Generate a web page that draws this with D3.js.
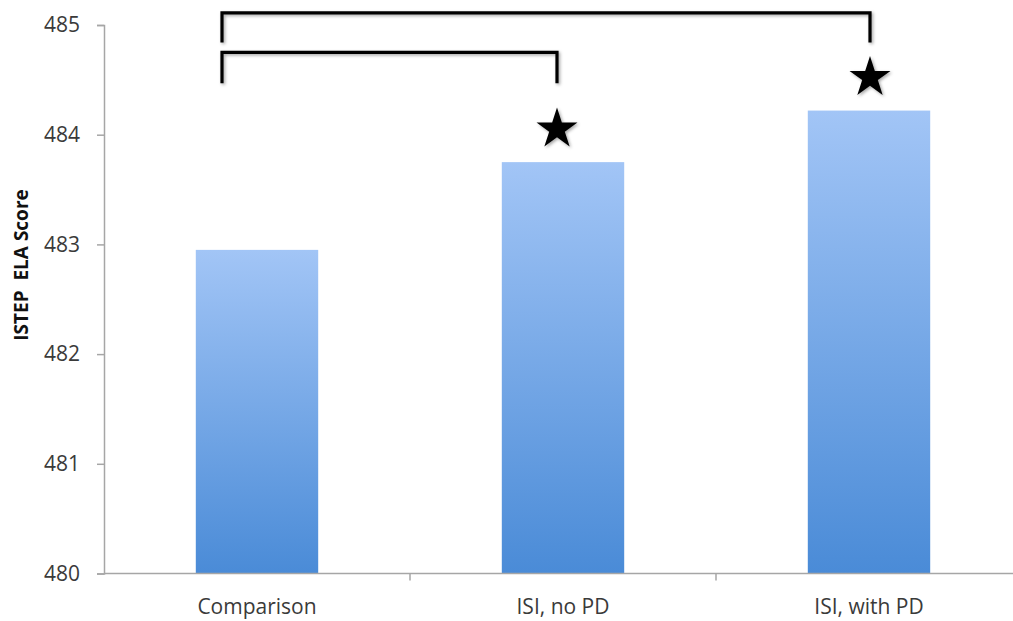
<!DOCTYPE html>
<html>
<head>
<meta charset="utf-8">
<script src="https://cdn.jsdelivr.net/npm/d3@7"></script>
<style>
  html, body { margin: 0; padding: 0; background: #fff; }
  svg { display: block; }
  text { font-family: "Open Sans", Lato, sans-serif; }
</style>
</head>
<body>
<svg id="chart" width="1013" height="621"></svg>
<script>
// ISTEP ELA mean scores by group
const categories = ["Comparison", "ISI, no PD", "ISI, with PD"];
const scores = [482.95, 483.75, 484.22];
const yTicks = [480, 481, 482, 483, 484, 485];
const axisTitle = "ISTEP  ELA Score";
// significance brackets: [from group, to group, bracket level]
const comparisons = [["Comparison", "ISI, with PD", 0], ["Comparison", "ISI, no PD", 1]];
const significant = ["ISI, no PD", "ISI, with PD"];

const svg = d3.select("#chart");
const W = 1013, H = 621;
const plotLeft = 104, plotBottom = 573.5, plotTop = 25;
const fontFamily = "'Open Sans', Lato, sans-serif";

const x = d3.scaleBand().domain(categories).range([plotLeft, plotLeft + 3 * 306]).padding(0);
const y = d3.scaleLinear().domain([480, 485]).range([plotBottom, plotTop]);
const barW = x.bandwidth() * 0.4;
const center = c => x(c) + x.bandwidth() / 2;
// small horizontal nudges for the annotation marks of each group
const markNudge = { "Comparison": -35, "ISI, no PD": -6, "ISI, with PD": 1 };

const defs = svg.append("defs");
const grad = defs.append("linearGradient")
  .attr("id", "barFill").attr("x1", 0).attr("y1", 0).attr("x2", 0).attr("y2", 1);
grad.append("stop").attr("offset", "0%").attr("stop-color", "#a2c5f6");
grad.append("stop").attr("offset", "100%").attr("stop-color", "#4a8bd7");

const shadow = defs.append("filter").attr("id", "soft")
  .attr("x", "-20%").attr("y", "-20%").attr("width", "140%").attr("height", "140%");
shadow.append("feDropShadow").attr("dx", 1.5).attr("dy", 1.5)
  .attr("stdDeviation", 1.5).attr("flood-color", "#000").attr("flood-opacity", 0.35);

// bars
svg.append("g").selectAll("rect")
  .data(categories.map((c, i) => ({ c, v: scores[i] })))
  .join("rect")
  .attr("x", d => x(d.c) + (x.bandwidth() - barW) / 2)
  .attr("width", barW)
  .attr("y", d => y(d.v))
  .attr("height", d => y(480) - y(d.v))
  .attr("fill", "url(#barFill)");

// y axis
const yAxis = svg.append("g")
  .attr("transform", `translate(${plotLeft},0)`)
  .call(d3.axisLeft(y).tickValues(yTicks).tickSize(7).tickPadding(17).tickFormat(d3.format("d")));
yAxis.select(".domain").attr("stroke", "#a6a6a6").attr("stroke-width", 1.5);
yAxis.selectAll(".tick line").attr("stroke", "#a6a6a6").attr("stroke-width", 1.5);
yAxis.selectAll(".tick text").attr("fill", "#3a3a3a").style("font-size", "21px")
  .style("font-family", fontFamily);

// x axis with boundary ticks between groups
const xAxisG = svg.append("g").attr("transform", `translate(0,${plotBottom})`);
xAxisG.append("line")
  .attr("x1", plotLeft).attr("x2", W)
  .attr("stroke", "#a6a6a6").attr("stroke-width", 1.5);
xAxisG.selectAll("line.sep")
  .data(categories.slice(1))
  .join("line").attr("class", "sep")
  .attr("x1", d => x(d)).attr("x2", d => x(d))
  .attr("y1", 0).attr("y2", 7)
  .attr("stroke", "#a6a6a6").attr("stroke-width", 1.5);
xAxisG.selectAll("text")
  .data(categories)
  .join("text")
  .attr("x", d => center(d))
  .attr("y", 40)
  .attr("text-anchor", "middle")
  .attr("fill", "#3a3a3a")
  .style("font-size", "21px")
  .style("font-family", fontFamily)
  .text(d => d);

// axis title
svg.append("text")
  .attr("transform", `translate(21,265) rotate(-90)`)
  .attr("text-anchor", "middle")
  .attr("dy", "0.35em")
  .style("font-size", "19px")
  .style("font-weight", "bold")
  .style("white-space", "pre")
  .style("font-family", fontFamily)
  .attr("fill", "#111")
  .text(axisTitle);

// significance brackets
const bracketY = [485.11, 484.75];
const dropY = [484.84, 484.47];
const bracketG = svg.append("g").attr("filter", "url(#soft)");
comparisons.forEach(([a, b, lvl]) => {
  const xa = center(a) + markNudge[a];
  const xb = center(b) + markNudge[b];
  bracketG.append("path")
    .attr("d", `M${xa},${y(dropY[lvl])}V${y(bracketY[lvl])}H${xb}V${y(dropY[lvl])}`)
    .attr("fill", "none")
    .attr("stroke", "#000")
    .attr("stroke-width", 3.2);
});

// stars above significant groups
const star = d3.symbol().type(d3.symbolStar).size(520);
svg.append("g").attr("filter", "url(#soft)")
  .selectAll("path")
  .data(significant.map(c => ({ c, v: scores[categories.indexOf(c)] })))
  .join("path")
  .attr("d", star)
  .attr("transform", d => `translate(${center(d.c) + markNudge[d.c]},${y(d.v) - 33})`)
  .attr("fill", "#000");
</script>
</body>
</html>
